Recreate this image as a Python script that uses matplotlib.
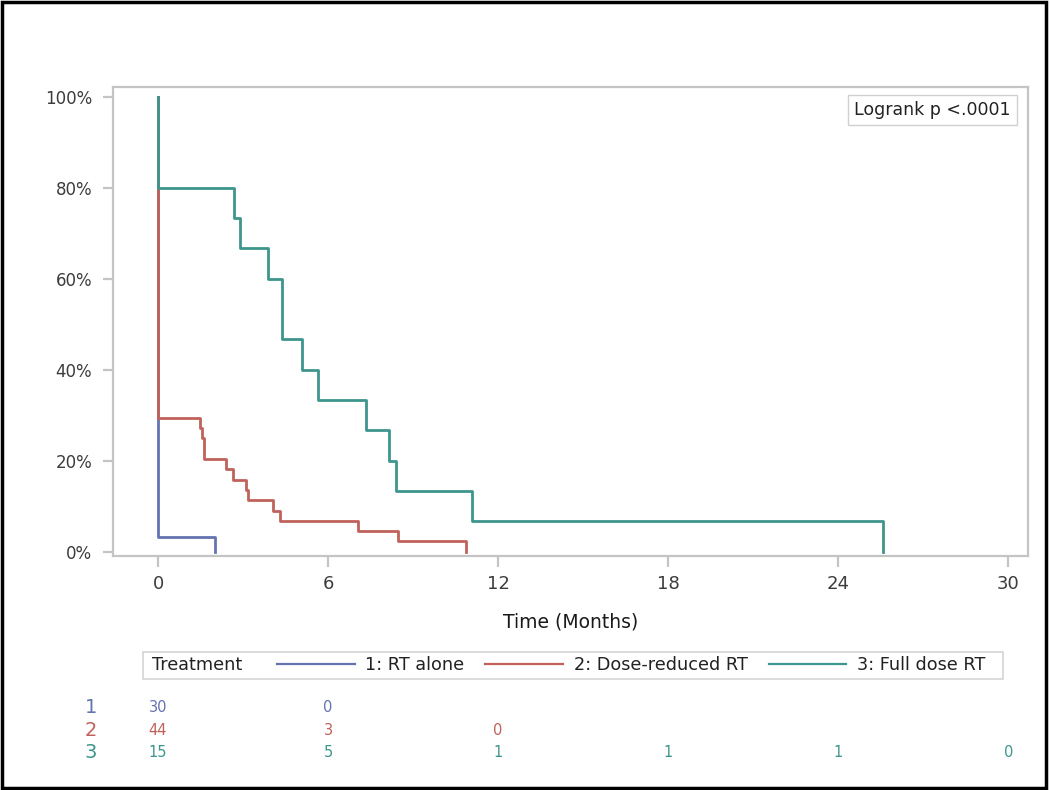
import matplotlib
matplotlib.use('Agg')
import matplotlib.pyplot as plt
from matplotlib.lines import Line2D
from matplotlib.patches import Rectangle
from matplotlib.transforms import blended_transform_factory

# Kaplan-Meier steps (months, survival fraction)
t_rt = [0, 0, 2.0]
s_rt = [1.0, 0.0333, 0.0]

t_dose_red = [0, 0, 1.48, 1.56, 1.63, 2.40, 2.66, 3.09, 3.16, 4.07, 4.30, 7.04, 8.45, 10.85]
s_dose_red = [1.0, 0.295, 0.273, 0.250, 0.205, 0.182, 0.159, 0.136, 0.114, 0.091, 0.068, 0.045, 0.023, 0.0]

t_full = [0, 0, 2.68, 2.89, 3.87, 4.36, 5.07, 5.63, 7.32, 8.15, 8.38, 11.07, 25.57]
s_full = [1.0, 0.80, 0.733, 0.667, 0.60, 0.467, 0.40, 0.333, 0.267, 0.20, 0.133, 0.067, 0.0]

group_labels = ['1: RT alone', '2: Dose-reduced RT', '3: Full dose RT']
group_ids = ['1', '2', '3']
colors = ['#6573b1', '#c0625b', '#3e958d']

risk_times = [0, 6, 12, 18, 24, 30]
risk_rt = [30, 0]
risk_dose_red = [44, 3, 0]
risk_full = [15, 5, 1, 1, 1, 0]

x_ticks = [0, 6, 12, 18, 24, 30]
y_ticks = [0, 0.2, 0.4, 0.6, 0.8, 1.0]
y_ticklabels = ['0%', '20%', '40%', '60%', '80%', '100%']

grey = '#c4c4c4'
txt = '#3c3c3c'

fig = plt.figure(figsize=(10.5, 7.9), dpi=100)
ax = fig.add_axes([0.1076, 0.2962, 0.8714, 0.5937])

curves = [(t_rt, s_rt), (t_dose_red, s_dose_red), (t_full, s_full)]
for (t, s), c, lab in zip(curves, colors, group_labels):
    ax.step(t, s, where='post', color=c, lw=2, label=lab)

ax.set_xlim(-1.59, 30.69)
ax.set_ylim(-0.009, 1.022)
ax.set_xticks(x_ticks)
ax.set_yticks(y_ticks)
ax.set_yticklabels(y_ticklabels)
for sp in ax.spines.values():
    sp.set_color(grey)
    sp.set_linewidth(1.6)
ax.tick_params(axis='both', color=grey, width=1.6, labelcolor=txt)
ax.tick_params(axis='y', length=7, pad=8, labelsize=12)
ax.tick_params(axis='x', length=8, pad=6, labelsize=13)
ax.set_xlabel('Time (Months)', fontsize=13.5, color='#1a1a1a', labelpad=14)

ax.text(0.981, 0.970, 'Logrank p <.0001', transform=ax.transAxes,
        ha='right', va='top', fontsize=12.5, color='#222222',
        bbox=dict(boxstyle='square,pad=0.35', fc='white', ec='#d0d0d0', lw=1))

# legend strip
fig.patches.append(Rectangle((0.1359, 0.1405), 0.8194, 0.0346, transform=fig.transFigure,
                             fill=False, ec='#d4d4d4', lw=1.2))
fig.text(0.1445, 0.1577, 'Treatment', ha='left', va='center', fontsize=12.7, color='#222222')
handles = [Line2D([], [], color=c, lw=1.6) for c in colors]
fig.legend(handles, group_labels, loc='center left', bbox_to_anchor=(0.2638, 0.1577),
           ncol=3, frameon=False, fontsize=12.7, handlelength=4.4, handletextpad=0.6,
           columnspacing=1.2, borderpad=0, borderaxespad=0, labelcolor='#222222')

# number at risk
trans = blended_transform_factory(ax.transData, fig.transFigure)
rows_y = [0.1038, 0.0759, 0.0481]
risk_rows = [risk_rt, risk_dose_red, risk_full]
for gid, counts, c, yy in zip(group_ids, risk_rows, colors, rows_y):
    fig.text(0.0867, yy, gid, ha='center', va='center', fontsize=14, color=c)
    for tt, n in zip(risk_times, counts):
        ax.text(tt, yy, str(n), transform=trans, ha='center', va='center',
                fontsize=10.5, color=c)

# outer frame
fig.patches.append(Rectangle((0.002, 0.003), 0.994, 0.994, transform=fig.transFigure,
                             fill=False, ec='black', lw=2.5))

fig.savefig('out.png', dpi=100)
